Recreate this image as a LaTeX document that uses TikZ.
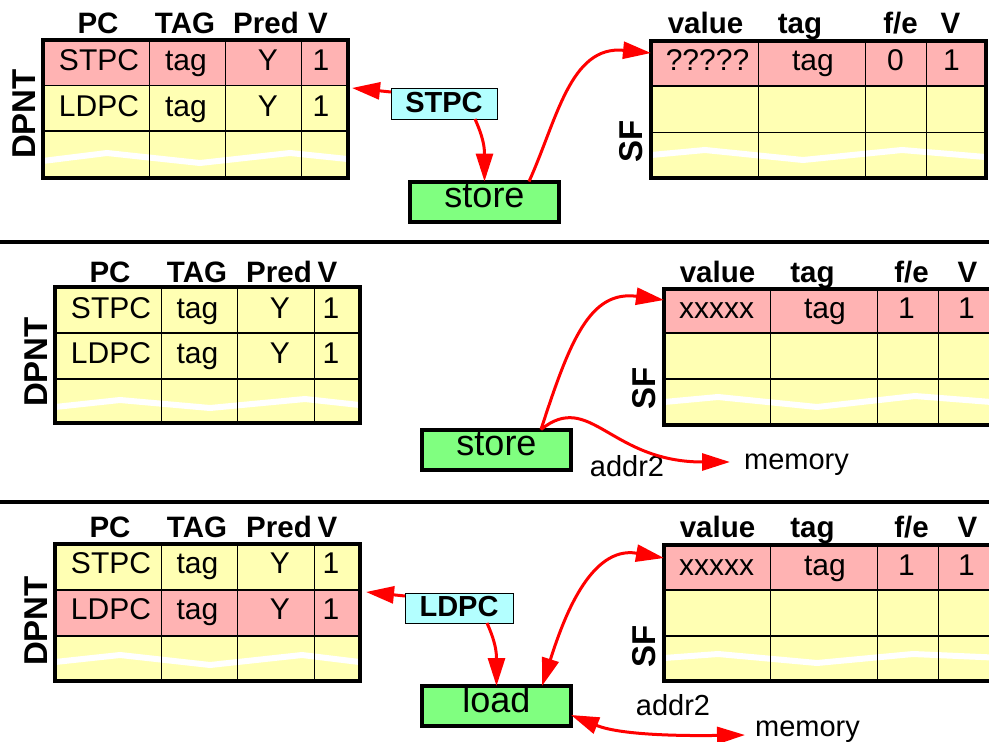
\documentclass[tikz,border=0pt]{standalone}
\usepackage{fontspec}
\setmainfont{Liberation Sans}
\usetikzlibrary{arrows.meta}
\definecolor{rowpink}{RGB}{255,179,179}
\definecolor{rowyellow}{RGB}{255,255,179}
\definecolor{tagcyan}{RGB}{179,255,255}
\definecolor{opgreen}{RGB}{128,255,128}
\tikzset{
  hd/.style={font=\fontsize{29.5}{31}\selectfont\bfseries, anchor=base, inner sep=0pt},
  cell/.style={font=\fontsize{30}{32}\selectfont, anchor=base, inner sep=0pt},
  side/.style={font=\fontsize{33}{35}\selectfont\bfseries, rotate=90, inner sep=0pt},
  tablebg/.style={fill=rowyellow, inner sep=0pt, outer sep=0pt, anchor=north west},
  frame/.style={line width=4pt},
  gridline/.style={line width=1.3pt},
  tear/.style={white, line width=6pt},
  opbox/.style={draw, line width=4pt, fill=opgreen, inner sep=0pt, outer sep=0pt,
    minimum width=149pt, minimum height=40pt, text height=12pt, text depth=0pt,
    font=\fontsize{36}{38}\selectfont},
  pcbox/.style={draw, line width=1pt, fill=tagcyan, inner sep=0pt, outer sep=0pt,
    text height=17pt, text depth=0pt, font=\fontsize{29}{31}\selectfont\bfseries},
  link/.style={red, line width=3pt, -{Triangle[length=28pt,width=17pt]}},
  dlink/.style={red, line width=3pt, {Triangle[length=28pt,width=17pt]}-{Triangle[length=28pt,width=17pt]}},
  sep/.style={line width=4pt},
  note/.style={font=\fontsize{29}{31}\selectfont, anchor=base, inner sep=0pt},
}
\begin{document}
\begin{tikzpicture}[x=1pt,y=-1pt]
\useasboundingbox (0,0) rectangle (989,742);
\clip (0,0) rectangle (989,742);

% ---------- panel separators ----------
\draw[sep] (0,242) -- (989,242);
\draw[sep] (0,501.5) -- (989,501.5);

% ================= panel 1: store issues =================
% DPNT table
\node[tablebg, minimum width=305pt, minimum height=137.5pt] (dpnt1) at (42.5,40) {};
\fill[rowpink] (dpnt1.north west) rectangle (347.5,85.3);
\draw[tear] (42.5,161) -- (107,153) -- (200,163) -- (290,153) -- (347.5,159);
\foreach \c in {149.7,225.7,301.7} \draw[gridline] (\c,40) -- (\c,177.5);
\foreach \r in {85.3,131} \draw[gridline] (42.5,\r) -- (347.5,\r);
\draw[frame] (dpnt1.north west) rectangle (dpnt1.south east);
\foreach \t/\x [count=\i] in {PC/98,TAG/185,Pred/266,V/318}
  \node[hd] (d1h\i) at (\x,33) {\t};
\foreach \t/\x [count=\i] in {STPC/99,tag/186,Y/268,1/321}
  \node[cell] (d1a\i) at (\x,70) {\t};
\foreach \t/\x [count=\i] in {LDPC/99,tag/186,Y/268,1/321}
  \node[cell] (d1b\i) at (\x,116) {\t};
\node[side] (d1side) at (24.5,114) {DPNT};

% SF table
\node[tablebg, minimum width=334.5pt, minimum height=136.5pt] (sf1) at (651,41) {};
\fill[rowpink] (sf1.north west) rectangle (985.5,86);
\draw[tear] (651,155) -- (705,150) -- (803,160) -- (902,150) -- (985.5,157);
\foreach \c in {758.7,865.7,926.7} \draw[gridline] (\c,41) -- (\c,177.5);
\foreach \r in {86,132.3} \draw[gridline] (651,\r) -- (985.5,\r);
\draw[frame] (sf1.north west) rectangle (sf1.south east);
\node[hd] (s1h1) at (705.5,33) {value};
\node[hd] (s1h2) at (800,33) {tag};
\node[hd] (s1h3) at (900.5,33) {f/e};
\node[hd] (s1h4) at (950.5,33) {V};
\node[cell] (s1a1) at (707.5,70) {?????};
\node[cell] (s1a2) at (813,70) {tag};
\node[cell] (s1a3) at (895.5,70) {0};
\node[cell] (s1a4) at (951.5,70) {1};
\node[side] (s1side) at (631.5,141) {SF};

% operation boxes
\node[pcbox, minimum width=106pt, minimum height=31pt] (stpc) at (444,103.5) {STPC};
\node[opbox] (store1) at (484.5,201.5) {store};

\coordinate (d1in) at (352,88);
\coordinate (s1in) at (651,53);
\draw[link] ([yshift=11.5pt]stpc.west) -- (d1in);
\draw[link] ([xshift=31pt]stpc.south) .. controls +(8,18) and +(0,-35) .. (store1.north);
\draw[link] ([xshift=44.5pt]store1.north) .. controls (557,120) and (570,45) .. (s1in);

% ================= panel 2: store commits =================
\node[tablebg, minimum width=304.5pt, minimum height=136pt] (dpnt2) at (55,287) {};
\draw[tear] (55,407) -- (120,400) -- (210,408) -- (305,399) -- (359.5,405);
\foreach \c in {161.7,237.7,314.3} \draw[gridline] (\c,287) -- (\c,423);
\foreach \r in {333,379} \draw[gridline] (55,\r) -- (359.5,\r);
\draw[frame] (dpnt2.north west) rectangle (dpnt2.south east);
\foreach \t/\x [count=\i] in {PC/110,TAG/197,Pred/279,V/327.5}
  \node[hd] (d2h\i) at (\x,282) {\t};
\foreach \t/\x [count=\i] in {STPC/111,tag/197.5,Y/280,1/331}
  \node[cell] (d2a\i) at (\x,318) {\t};
\foreach \t/\x [count=\i] in {LDPC/111,tag/197.5,Y/280,1/331}
  \node[cell] (d2b\i) at (\x,363) {\t};
\node[side] (d2side) at (36.5,362) {DPNT};

\node[tablebg, minimum width=340pt, minimum height=136pt] (sf2) at (664,289) {};
\fill[rowpink] (sf2.north west) rectangle (1004,333);
\draw[tear] (664,402) -- (718,397) -- (817,407) -- (915,396) -- (1004,403);
\foreach \c in {770.7,877.7,938.7} \draw[gridline] (\c,289) -- (\c,425);
\foreach \r in {333,379} \draw[gridline] (664,\r) -- (1004,\r);
\draw[frame] (sf2.north west) rectangle (sf2.south east);
\node[hd] (s2h1) at (717.5,282) {value};
\node[hd] (s2h2) at (812.5,282) {tag};
\node[hd] (s2h3) at (911.5,282) {f/e};
\node[hd] (s2h4) at (967.5,282) {V};
\node[cell] (s2a1) at (716.5,318) {xxxxx};
\node[cell] (s2a2) at (825,318) {tag};
\node[cell] (s2a3) at (906.5,318) {1};
\node[cell] (s2a4) at (966.5,318) {1};
\node[side] (s2side) at (644,388) {SF};

\node[opbox] (store2) at (496.5,449.5) {store};
\node[note] (addr2a) at (627,476) {addr2};
\node[note] (mem2) at (796.5,469) {memory};

\coordinate (s2in) at (664,300);
\coordinate (m2in) at (730,462);
\draw[link] ([xshift=44.5pt]store2.north) .. controls (570,340) and (590,290) .. (s2in);
\draw[link] ([xshift=44.5pt]store2.north) .. controls (590,390) and (610,462) .. (m2in);

% ================= panel 3: load forwards =================
\node[tablebg, minimum width=304.5pt, minimum height=137pt] (dpnt3) at (55,544) {};
\fill[rowpink] (55,590) rectangle (359.5,636);
\draw[tear] (55,662) -- (120,655) -- (210,665) -- (302,655) -- (359.5,662);
\foreach \c in {161.7,237.7,314.3} \draw[gridline] (\c,544) -- (\c,681);
\foreach \r in {590,636} \draw[gridline] (55,\r) -- (359.5,\r);
\draw[frame] (dpnt3.north west) rectangle (dpnt3.south east);
\foreach \t/\x [count=\i] in {PC/110,TAG/197,Pred/279,V/327.5}
  \node[hd] (d3h\i) at (\x,537) {\t};
\foreach \t/\x [count=\i] in {STPC/111,tag/197.5,Y/280,1/331}
  \node[cell] (d3a\i) at (\x,573) {\t};
\foreach \t/\x [count=\i] in {LDPC/111,tag/197.5,Y/280,1/331}
  \node[cell] (d3b\i) at (\x,619) {\t};
\node[side] (d3side) at (36.5,621) {DPNT};

\node[tablebg, minimum width=340pt, minimum height=136pt] (sf3) at (664,545) {};
\fill[rowpink] (sf3.north west) rectangle (1004,590);
\draw[tear] (664,658) -- (718,654) -- (817,663) -- (913,654) -- (1004,658);
\foreach \c in {770.7,877.7,938.7} \draw[gridline] (\c,545) -- (\c,681);
\foreach \r in {590,636} \draw[gridline] (664,\r) -- (1004,\r);
\draw[frame] (sf3.north west) rectangle (sf3.south east);
\node[hd] (s3h1) at (717.5,537) {value};
\node[hd] (s3h2) at (812.5,537) {tag};
\node[hd] (s3h3) at (911.5,537) {f/e};
\node[hd] (s3h4) at (967.5,537) {V};
\node[cell] (s3a1) at (716.5,575) {xxxxx};
\node[cell] (s3a2) at (825,575) {tag};
\node[cell] (s3a3) at (906.5,575) {1};
\node[cell] (s3a4) at (966.5,575) {1};
\node[side] (s3side) at (644,646) {SF};

\node[pcbox, minimum width=108pt, minimum height=30pt] (ldpc) at (459,608) {LDPC};
\node[opbox] (load) at (496.5,706) {load};
\node[note] (addr2b) at (673,715) {addr2};
\node[note] (mem3) at (807.5,736) {memory};

\coordinate (d3in) at (366,592);
\coordinate (s3in) at (664,558);
\coordinate (m3in) at (745,735);
\draw[link] ([yshift=12pt]ldpc.west) -- (d3in);
\draw[link] ([xshift=28pt]ldpc.south) .. controls +(8,18) and +(0,-35) .. (load.north);
\draw[dlink] ([xshift=45.5pt]load.north) .. controls (563,620) and (590,545) .. (s3in);
\draw[dlink] ([yshift=-9pt]load.east) .. controls (620,735) and (680,736) .. (m3in);
\end{tikzpicture}
\end{document}
